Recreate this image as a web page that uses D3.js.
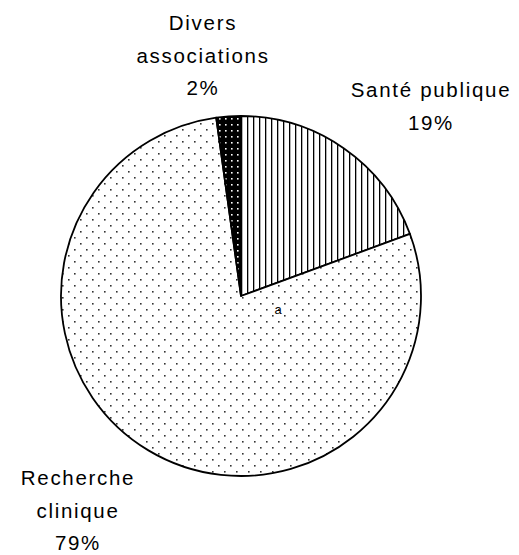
<!DOCTYPE html>
<html>
<head>
<meta charset="utf-8">
<script src="https://cdn.jsdelivr.net/npm/d3@7"></script>
<style>
  body { margin: 0; background: #fff; }
  text { font-family: "Liberation Sans", Arial, sans-serif; fill: #000; }
</style>
</head>
<body>
<svg id="chart"></svg>
<script>
// data
var categories = ["Santé publique", "Recherche clinique", "Divers associations"];
var values = [19.4, 78.4, 2.2];
var labelLines = [["Santé publique", "19%"], ["Recherche", "clinique", "79%"], ["Divers", "associations", "2%"]];

var width = 519, height = 555;
var cx = 241, cy = 296, radius = 180;

// where each label block is centred (x) and where its first baseline sits (y)
var labelPos = [[431, 97], [78, 485], [203, 30]];
var patterns = ["vlines", "dots", "blackdots"];

var svg = d3.select("#chart").attr("width", width).attr("height", height);

var defs = svg.append("defs");

var p1 = defs.append("pattern").attr("id", "vlines") //vertical hatching
    .attr("patternUnits", "userSpaceOnUse").attr("width", 6).attr("height", 6);
p1.append("rect").attr("width", 6).attr("height", 6).attr("fill", "#fff");
p1.append("rect").attr("x", 0).attr("width", 1.3).attr("height", 6).attr("fill", "#000");

var p2 = defs.append("pattern").attr("id", "dots") //sparse staggered dots
    .attr("patternUnits", "userSpaceOnUse").attr("width", 12).attr("height", 12);
p2.append("rect").attr("width", 12).attr("height", 12).attr("fill", "#fff");
p2.append("rect").attr("x", 1).attr("y", 1).attr("width", 1.6).attr("height", 1.6).attr("fill", "#333");
p2.append("rect").attr("x", 7).attr("y", 7).attr("width", 1.6).attr("height", 1.6).attr("fill", "#333");

var p3 = defs.append("pattern").attr("id", "blackdots") //black with white dots
    .attr("patternUnits", "userSpaceOnUse").attr("width", 6).attr("height", 6);
p3.append("rect").attr("width", 6).attr("height", 6).attr("fill", "#000");
p3.append("rect").attr("x", 2).attr("y", 2).attr("width", 1.6).attr("height", 1.6).attr("fill", "#fff");

var pie = d3.pie().sort(null).value(function(d) { return d; });
var arc = d3.arc().innerRadius(0).outerRadius(radius);

var g = svg.append("g").attr("transform", "translate(" + cx + "," + cy + ")");

g.selectAll("path")
    .data(pie(values))
  .enter().append("path")
    .attr("d", arc)
    .attr("fill", function(d, i) { return "url(#" + patterns[i] + ")"; })
    .attr("stroke", "#000")
    .attr("stroke-width", 1.8)
    .attr("stroke-linejoin", "round");

var labels = svg.selectAll("text.lbl")
    .data(categories)
  .enter().append("text")
    .attr("class", "lbl")
    .attr("text-anchor", "middle")
    .attr("font-size", 20.5)
    .attr("letter-spacing", 1.7);

labels.selectAll("tspan")
    .data(function(d, i) { return labelLines[i].map(function(t) { return {t: t, i: i}; }); })
  .enter().append("tspan")
    .attr("x", function(d) { return labelPos[d.i][0]; })
    .attr("y", function(d, j) { return labelPos[d.i][1] + j * 32.5; })
    .text(function(d) { return d.t; });

// small stray label near the centre
svg.append("text")
    .attr("x", 278).attr("y", 314)
    .attr("text-anchor", "middle")
    .attr("font-size", 13)
    .text("a");
</script>
</body>
</html>
